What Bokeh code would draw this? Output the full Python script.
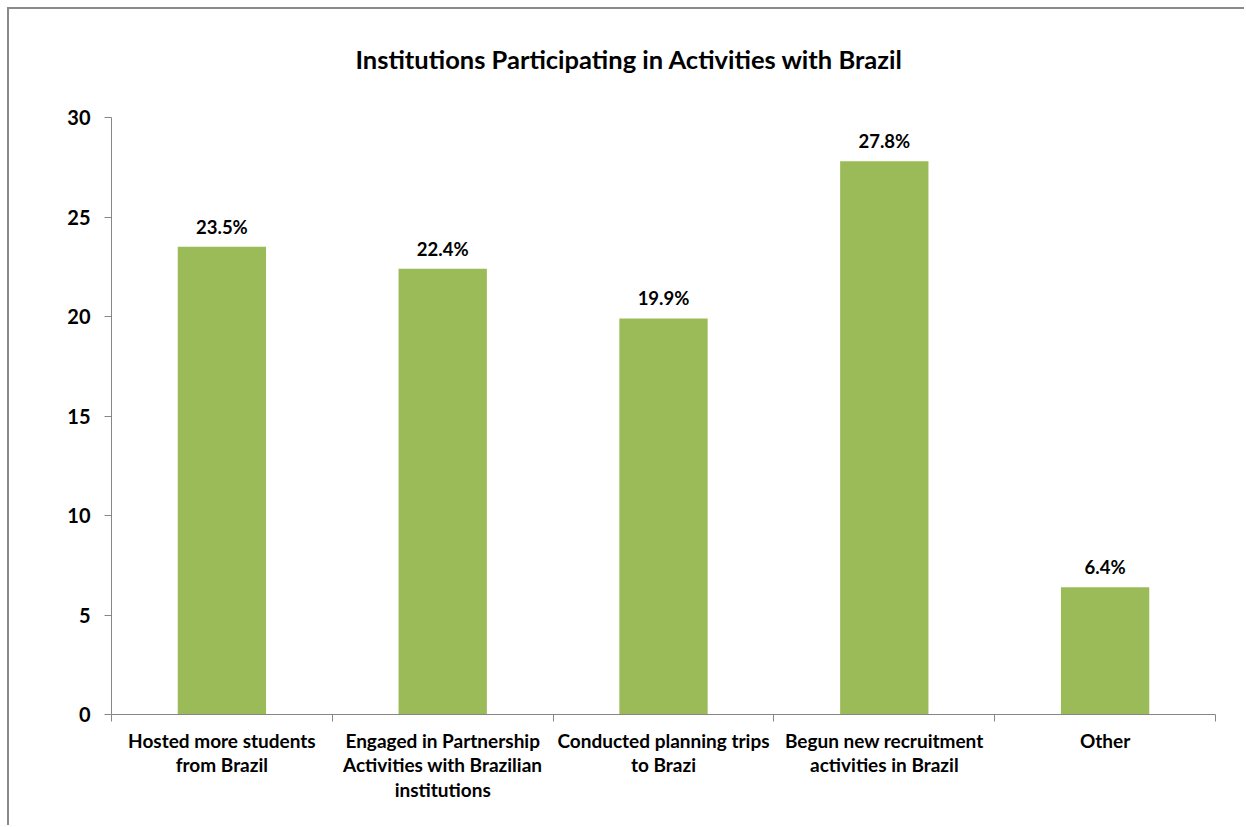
from bokeh.plotting import figure
from bokeh.models import FixedTicker, ColumnDataSource, Range1d
from bokeh.core.properties import value
from bokeh.embed import file_html
from bokeh.resources import INLINE

# ---- data ----
categories = [
    "Hosted more students\nfrom Brazil",
    "Engaged in Partnership\nActivities with Brazilian\ninstitutions",
    "Conducted planning trips\nto Brazi",
    "Begun new recruitment\nactivities in Brazil",
    "Other",
]
values = [23.5, 22.4, 19.9, 27.8, 6.4]
value_labels = ["23.5%", "22.4%", "19.9%", "27.8%", "6.4%"]
y_ticks = [0, 5, 10, 15, 20, 25, 30]
chart_title = "Institutions Participating in Activities with Brazil"

FONT = "Lato"
BAR = "#9BBB59"
AXIS = "#868686"

xs = list(range(len(categories)))
src = ColumnDataSource(dict(x=xs, top=values, label=value_labels))

p = figure(
    width=1237, height=818,
    x_range=Range1d(-0.5, len(categories) - 0.5),
    y_range=Range1d(y_ticks[0], y_ticks[-1]),
    output_backend="svg", toolbar_location=None,
    min_border_left=102, min_border_right=31,
    min_border_top=108, min_border_bottom=113,
)
p.outline_line_color = None
p.xgrid.grid_line_color = None
p.ygrid.grid_line_color = None
p.background_fill_color = "white"
p.border_fill_color = "white"
p.styles = {
    "margin-left": "7px", "margin-top": "7px",
    "border-left": "2px solid #8a8a8a", "border-top": "2px solid #8a8a8a",
}

p.vbar(x="x", top="top", width=0.4, source=src, fill_color=BAR, line_color=None)
p.text(x="x", y="top", text="label", source=src, text_align="center",
       text_baseline="bottom", y_offset=-9, text_font=value(FONT),
       text_font_style="bold", text_font_size="18.5px", text_color="black")

# y axis
yax = p.yaxis[0]
yax.ticker = FixedTicker(ticks=y_ticks)
yax.axis_line_color = AXIS
yax.major_tick_line_color = AXIS
yax.major_tick_out = 7
yax.major_tick_in = 0
yax.minor_tick_line_color = None
yax.major_label_standoff = 14
yax.major_label_text_font = FONT
yax.major_label_text_font_style = "bold"
yax.major_label_text_font_size = "20px"
yax.major_label_text_color = "black"

# x axis
xax = p.xaxis[0]
xax.ticker = FixedTicker(ticks=xs, minor_ticks=[i - 0.5 for i in range(len(categories) + 1)])
xax.major_label_overrides = {i: c for i, c in enumerate(categories)}
xax.axis_line_color = AXIS
xax.major_tick_line_color = None
xax.major_tick_out = 7
xax.major_tick_in = 0
xax.minor_tick_line_color = AXIS
xax.minor_tick_out = 7
xax.minor_tick_in = 0
xax.major_label_standoff = 7
xax.major_label_text_font = FONT
xax.major_label_text_font_style = "bold"
xax.major_label_text_font_size = "19px"
xax.major_label_text_line_height = 1.07
xax.major_label_text_color = "black"

# title: a blank second line lifts it further above the plot area
p.title.text = chart_title + "\n "
p.title.align = "left"
p.title.offset = 244
p.title.standoff = 27
p.title.text_font = FONT
p.title.text_font_style = "bold"
p.title.text_font_size = "25.5px"
p.title.text_color = "black"

open("out.html", "w").write(file_html(p, INLINE))
